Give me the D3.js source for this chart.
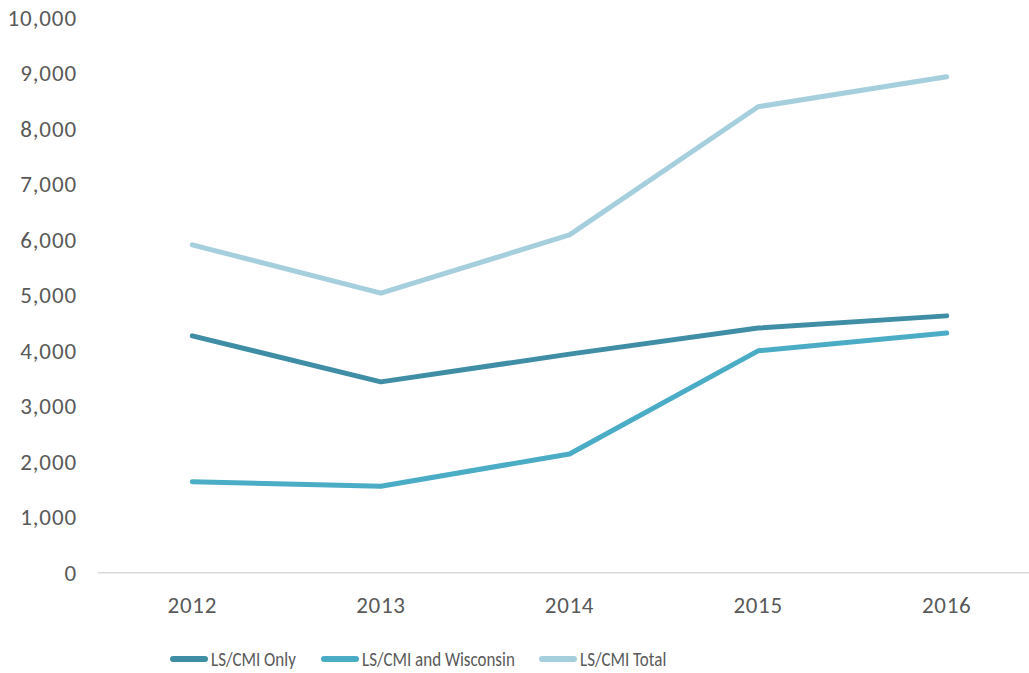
<!DOCTYPE html>
<html><head><meta charset="utf-8">
<script src="https://cdn.jsdelivr.net/npm/d3@7"></script>
<style>body{margin:0;background:#fff}svg{display:block}text{font-family:Carlito,Lato,"Open Sans",sans-serif;fill:#595959}</style>
</head><body><svg id="c" width="1029" height="673"></svg>
<script>
const years = ["2012","2013","2014","2015","2016"];
const onlyVals = [4270,3440,3940,4410,4630];
const wiscVals = [1640,1560,2140,4000,4320];
const totalVals = [5910,5040,6090,8400,8940];
const seriesNames = ["LS/CMI Only","LS/CMI and Wisconsin","LS/CMI Total"];
const seriesColors = ["#3f8ea5","#4bacc6","#a6cfdd"];
const yTicks = [0,1000,2000,3000,4000,5000,6000,7000,8000,9000,10000];

const series = [onlyVals, wiscVals, totalVals];
const svg = d3.select("#c");
const x = d3.scaleBand().domain(years).range([98, 1041]);
const y = d3.scaleLinear().domain([0,10000]).range([572.7, 18]);

// baseline
svg.append("line").attr("x1",98).attr("x2",1029).attr("y1",y(0)).attr("y2",y(0))
  .attr("stroke","#d9d9d9").attr("stroke-width",1.5);

// y axis labels
const yAxis = svg.append("g").attr("transform","translate(77,0)")
  .call(d3.axisLeft(y).tickValues(yTicks).tickSize(0).tickPadding(0).tickFormat(d3.format(",")));
yAxis.select(".domain").remove();
yAxis.selectAll("text").style("font-size","23px").style("letter-spacing","0.9px").attr("fill","#595959");

// x axis labels
const xAxis = svg.append("g").attr("transform","translate(0,597)")
  .call(d3.axisBottom(x).tickSize(0).tickPadding(0));
xAxis.select(".domain").remove();
xAxis.selectAll("text").style("font-size","23px").style("letter-spacing","0.7px").attr("fill","#595959");

const line = d3.line().x((d,i)=>x(years[i])+x.bandwidth()/2).y(d=>y(d));
[2,1,0].forEach(k=>{
  svg.append("path").datum(series[k]).attr("d",line).attr("fill","none")
    .attr("stroke",seriesColors[k]).attr("stroke-width",5)
    .attr("stroke-linecap","round").attr("stroke-linejoin","round");
});

// legend
const legX = [170, 321, 539];
const lg = svg.append("g");
seriesNames.forEach((n,i)=>{
  lg.append("line").attr("x1",legX[i]+3).attr("x2",legX[i]+35).attr("y1",659).attr("y2",659)
    .attr("stroke",seriesColors[i]).attr("stroke-width",6).attr("stroke-linecap","round");
  lg.append("text").attr("transform",`translate(${legX[i]+41},659) scale(0.87,1)`).attr("dy","0.36em")
    .style("font-size","19.5px").text(n);
});
</script></body></html>
